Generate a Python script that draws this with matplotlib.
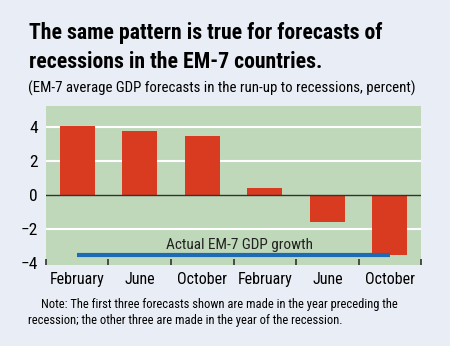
import matplotlib.pyplot as plt
import numpy as np

# Forecast timing (first three: year before recession, last three: recession year)
months = ["February", "June", "October", "February", "June", "October"]
forecasts = [4.05, 3.75, 3.5, 0.45, -1.6, -3.5]
actual_growth = -3.5
yticks = [-4, -2, 0, 2, 4]

BG = "#e9edf5"
PLOT_BG = "#bfd8b9"
BAR = "#d93b20"
LINE = "#1f6ab4"
FONT = ["Roboto Condensed", "Archivo Narrow", "Liberation Sans Narrow", "DejaVu Sans"]

plt.rcParams["font.family"] = FONT

fig = plt.figure(figsize=(4.5, 3.46), dpi=100, facecolor=BG)
ax = fig.add_axes([0.102, 0.234, 0.834, 0.46])
ax.set_facecolor(PLOT_BG)

x = np.arange(len(months))
ax.bar(x, forecasts, width=0.56, color=BAR, zorder=3)
ax.axhline(0, color="#333333", lw=1, zorder=4)
for y in yticks:
    if y not in (0, -4):
        ax.axhline(y, color="white", lw=1.5, zorder=1)

ax.plot([x[0], x[-1]], [actual_growth, actual_growth], color=LINE, lw=3,
        solid_capstyle="butt", zorder=5)
ax.text((x[0] + x[-1]) / 2 + 0.1, -2.95, "Actual EM-7 GDP growth", ha="center",
        va="center", fontsize=11, color="#222222", zorder=6)

ax.set_xlim(-0.5, len(months) - 0.5)
ax.set_ylim(-4.1, 5.25)
ax.set_yticks(yticks)
ax.set_yticklabels([str(v).replace("-", "\u2212") for v in yticks], fontsize=12.5)
ax.tick_params(axis="y", length=0, pad=6)

ax.set_xticks(x)
ax.set_xticklabels(months, fontsize=11.5)
ax.set_xticks(np.arange(-0.5, len(months)), minor=True)
ax.tick_params(axis="x", which="major", length=0, pad=5)
ax.tick_params(axis="x", which="minor", direction="in", length=4, width=1.2,
               color="#333333")
for s in ax.spines.values():
    s.set_visible(False)

fig.text(0.064, 0.905, "The same pattern is true for forecasts of",
         fontsize=15.7, fontweight="bold", va="center")
fig.text(0.064, 0.821, "recessions in the EM-7 countries.",
         fontsize=15.7, fontweight="bold", va="center")
fig.text(0.062, 0.745, "(EM-7 average GDP forecasts in the run-up to recessions, percent)",
         fontsize=10.7, va="center")
fig.text(0.091, 0.12, "Note: The first three forecasts shown are made in the year preceding the",
         fontsize=9.0, va="center")
fig.text(0.062, 0.073, "recession; the other three are made in the year of the recession.",
         fontsize=9.0, va="center")

fig.savefig("out.png", dpi=100, facecolor=BG)
